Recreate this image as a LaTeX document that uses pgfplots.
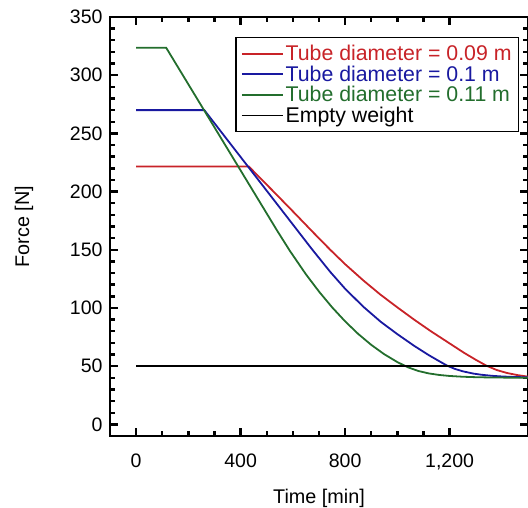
\documentclass[border=0pt]{standalone}
\usepackage{fontspec}
\setmainfont{Liberation Sans}
\usepackage{pgfplots}
\pgfplotsset{compat=1.18}
\definecolor{cred}{RGB}{200,35,40}
\definecolor{cblue}{RGB}{25,25,160}
\definecolor{cgreen}{RGB}{35,110,45}
\newcommand{\ls}{\rule[-4.5pt]{0pt}{19.8pt}}
\begin{document}
\begin{tikzpicture}
\begin{axis}[
  at={(110pt,72pt)}, anchor=south west,
  scale only axis, width=418pt, height=419pt,
  xmin=-100, xmax=1500, ymin=-10, ymax=350,
  xtick={0,400,800,1200}, minor x tick num=3,
  ytick={0,50,...,350}, minor y tick num=4,
  tick align=inside,
  tickwidth=8pt, subtickwidth=5pt,
  tick style={black, line width=2.4pt},
  major tick style={black, line width=2.4pt},
  minor tick style={black, line width=2.4pt},
  axis background/.style={draw=black, line width=2.8pt},
  /pgf/number format/assume math mode=true,
  /pgf/number format/1000 sep={,},
  ticklabel style={font=\fontsize{19.5}{23}\selectfont},
  xticklabel style={anchor=base, yshift=-32pt},
  yticklabel style={xshift=-4pt},
  xlabel={Time [min]}, ylabel={Force [N]},
  label style={font=\fontsize{19.8}{23}\selectfont},
  xlabel style={at={(axis description cs:0.5,-0.148)}, anchor=center},
  ylabel style={at={(axis description cs:-0.2057,0.5)}, anchor=center},
  legend style={at={(1,1)}, anchor=north east, xshift=-9pt, yshift=-20pt,
    draw=black, line width=1.2pt, inner xsep=5pt, inner ysep=6pt,
    font=\fontsize{21.3}{24}\selectfont, nodes={inner sep=1.8pt},
    row sep=0pt, column sep=0pt},
  legend cell align=left,
  legend image code/.code={\draw[#1, line width=1.8pt] (0pt,0pt) -- (41pt,0pt);},
]
\addplot[cred, line width=1.8pt] coordinates {
(0,221.6) (431,221.6) (526,200) (600,183) (680,164.4) (743,150) (800,137.6)
(870,123.6) (935,111.5) (1000,100.5) (1064,90) (1127,80.2) (1190,71)
(1255,61.5) (1300,55.5) (1340,50.5) (1380,46.7) (1420,44.1) (1460,42.3) (1500,41)
};
\addlegendentry{\textcolor{cred}{Tube diameter = 0.09 m\ls}}
\addplot[cblue, line width=1.8pt] coordinates {
(0,270) (261,270) (330,250) (420,223.9) (490,203.6) (560,183.3) (620,165.9)
(672,150.8) (743,131) (800,116.5) (870,101) (937,88) (1000,77.5) (1064,67.5)
(1120,59.5) (1160,54.3) (1190,50.5) (1220,47.66) (1250,45.6) (1290,43.66)
(1320,42.67) (1360,41.75) (1400,41.15) (1450,40.68) (1500,40.4)
};
\addlegendentry{\textcolor{cblue}{Tube diameter = 0.1 m\ls}}
\addplot[cgreen, line width=1.8pt] coordinates {
(0,323.6) (115,323.6) (200,292.15) (300,255.15) (400,218.15) (500,181.15)
(540,166.35) (589,148.9) (650,128.9) (700,114.1) (750,100.6) (800,88.5)
(850,77.7) (900,68.3) (950,60.2) (1000,53.5) (1040,49.07) (1080,45.86)
(1120,43.78) (1160,42.44) (1200,41.58) (1250,40.91) (1300,40.53) (1350,40.3)
(1400,40.18) (1500,40.06)
};
\addlegendentry{\textcolor{cgreen}{Tube diameter = 0.11 m\ls}}
\addplot[black, line width=1.5pt] coordinates {(0,50) (1500,50)};
\addlegendentry{\textcolor{black}{Empty weight\ls}}
\end{axis}
\pgfresetboundingbox
\useasboundingbox (0,0) rectangle (528pt,508pt);
\end{tikzpicture}
\end{document}
